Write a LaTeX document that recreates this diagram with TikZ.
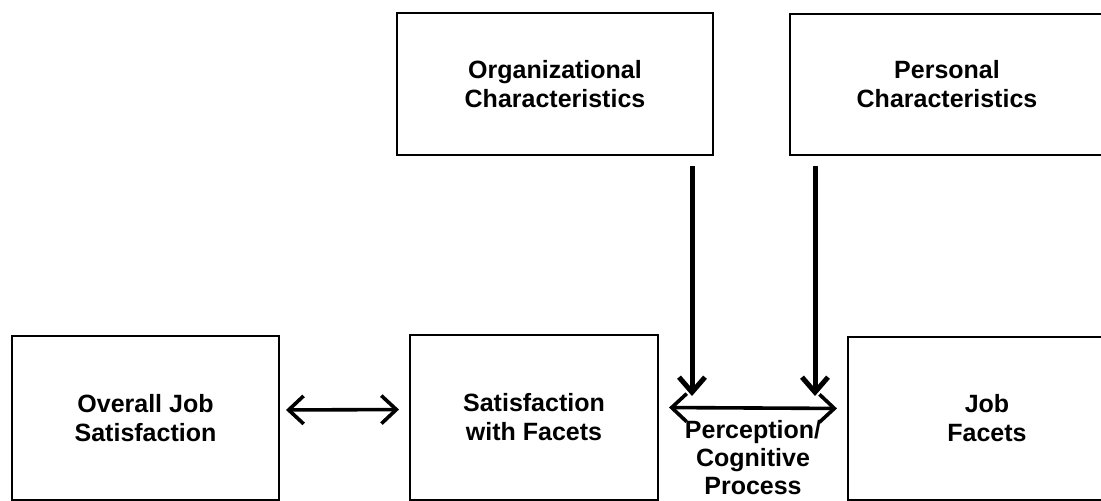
\documentclass[tikz,border=0pt]{standalone}
\usepackage{fontspec}
\setmainfont{Liberation Sans}
\usepackage{tikz}
\usetikzlibrary{shapes,arrows,arrows.meta,positioning}
\usepackage{xcolor}

\begin{document}
\begin{tikzpicture}[x=0.5pt,y=-0.5pt,
  box/.style={draw, line width=1pt, align=center, inner sep=0pt,
    font=\bfseries\fontsize{12.5}{14.5}\selectfont},
  label/.style={align=center, inner sep=0pt,
    font=\bfseries\fontsize{12.5}{14}\selectfont},
  vlink/.style={line width=2.5pt, -{Straight Barb[length=7.5pt,width=13pt]}},
  hlink/.style={line width=1.8pt, {Straight Barb[length=7.5pt,width=14pt]}-{Straight Barb[length=7.5pt,width=14pt]}}]

% Fix the page size and cut off what runs over the edge
\useasboundingbox (0,0) rectangle (1101,501);
\clip (0,0) rectangle (1101,501);

% Top row of boxes
\node[box, minimum width=158pt, minimum height=71pt] (org) at (555,84) {Organizational\\Characteristics};
\node[box, minimum width=157pt, minimum height=70.5pt] (pers) at (947,84.5) {Personal\\Characteristics};

% Bottom row of boxes
\node[box, minimum width=133.5pt, minimum height=82pt] (overall) at (145.5,418) {Overall Job\\Satisfaction};
\node[box, minimum width=124pt, minimum height=82.5pt] (sat) at (534,417.5) {Satisfaction\\with Facets};
\node[box, minimum width=139pt, minimum height=81.5pt] (job) at (987,418.5) {Job\\Facets};

% Label under the two-way arrow
\node[label] (perc) at (753,458) {Perception/\\Cognitive\\Process};

% Where the downward arrows stop
\coordinate (d1) at (692,396);
\coordinate (d2) at (815,396);

% Draw the arrows
\draw[hlink, shorten <=3pt, shorten >=5pt] ([yshift=4pt]overall.east) -- ([yshift=4pt]sat.west);
\draw[hlink, shorten <=5pt, shorten >=5pt] ([yshift=5pt]sat.east) -- ([yshift=5pt]job.west);
\draw[vlink, shorten <=5pt] (org.south -| d1) -- (d1);
\draw[vlink, shorten <=5pt] (pers.south -| d2) -- (d2);

\end{tikzpicture}
\end{document}
